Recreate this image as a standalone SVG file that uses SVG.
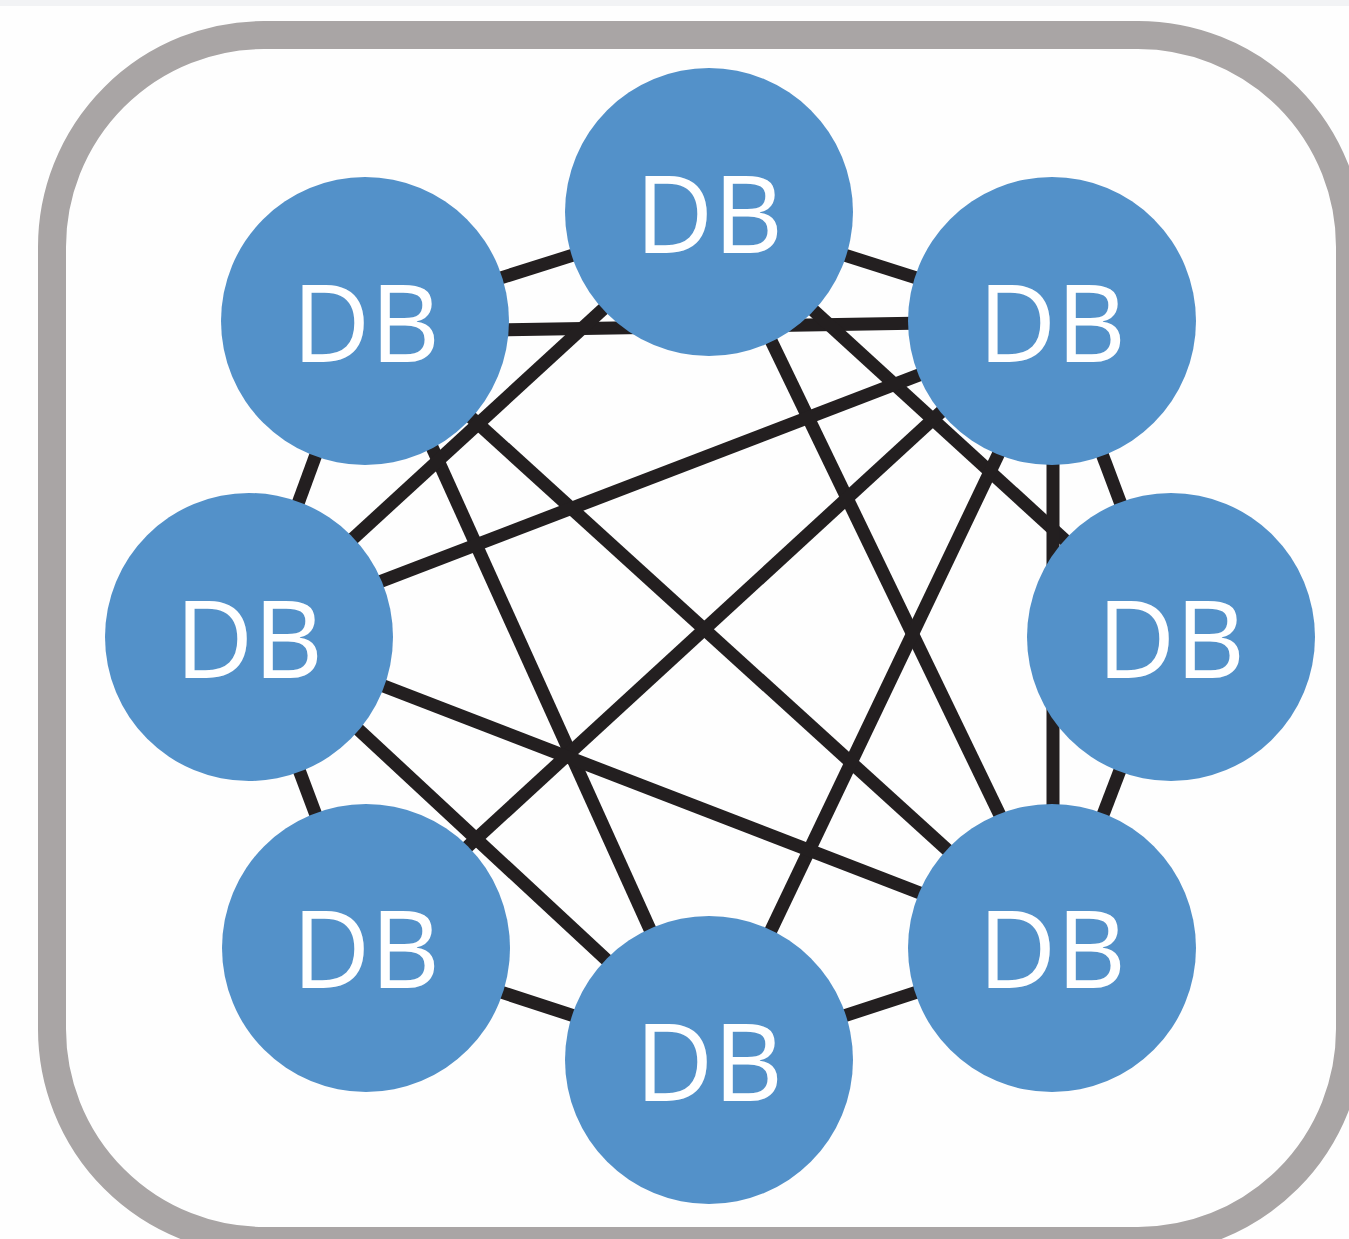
<svg xmlns="http://www.w3.org/2000/svg" width="1349" height="1239" viewBox="0 0 1349 1239">
  <style>
    .frame { fill: #fefefe; stroke: #a9a5a5; stroke-width: 28; }
    .edge { stroke: #231f20; stroke-width: 13; stroke-linecap: butt; fill: none; }
    .node circle { fill: #5391c9; }
    .node text { fill: #ffffff; font-family: "Open Sans", "Noto Sans", "Liberation Sans", sans-serif; font-size: 108px; font-weight: 500; text-anchor: middle; }
  </style>
  <rect x="0" y="0" width="1349" height="1239" fill="#fefefe"/>
  <rect x="0" y="0" width="1349" height="6" fill="#f2f3f5"/>
  <rect class="frame" x="52" y="35" width="1298" height="1206" rx="212" ry="212"/>

  <g id="connectors">
    <!-- ring -->
    <line class="edge" x1="709" y1="212" x2="365" y2="321"/>
    <line class="edge" x1="709" y1="212" x2="1052" y2="321"/>
    <line class="edge" x1="365" y1="321" x2="249" y2="637"/>
    <line class="edge" x1="1052" y1="321" x2="1171" y2="637"/>
    <line class="edge" x1="249" y1="637" x2="366" y2="948"/>
    <line class="edge" x1="1171" y1="637" x2="1052" y2="948"/>
    <line class="edge" x1="366" y1="948" x2="709" y2="1060"/>
    <line class="edge" x1="709" y1="1060" x2="1052" y2="948"/>
    <!-- chords -->
    <line class="edge" x1="365" y1="332" x2="1052" y2="321"/>
    <line class="edge" x1="365" y1="321" x2="1052" y2="945"/>
    <line class="edge" x1="375" y1="321" x2="709" y2="1060"/>
    <line class="edge" x1="709" y1="212" x2="249" y2="634"/>
    <line class="edge" x1="709" y1="212" x2="1064" y2="948"/>
    <line class="edge" x1="709" y1="215" x2="1171" y2="637"/>
    <line class="edge" x1="1052" y1="324" x2="249" y2="632"/>
    <line class="edge" x1="1052" y1="310" x2="366" y2="940"/>
    <line class="edge" x1="1062" y1="321" x2="709" y2="1060"/>
    <line class="edge" x1="1053" y1="321" x2="1053" y2="948"/>
    <line class="edge" x1="249" y1="634" x2="1052" y2="944"/>
    <line class="edge" x1="249" y1="628" x2="709" y2="1055"/>
  </g>

  <g id="node-top" class="node"><circle cx="709" cy="212" r="144"/><text x="709" y="253">DB</text></g>
  <g id="node-top-left" class="node"><circle cx="365" cy="321" r="144"/><text x="366" y="362">DB</text></g>
  <g id="node-top-right" class="node"><circle cx="1052" cy="321" r="144"/><text x="1052" y="362">DB</text></g>
  <g id="node-left" class="node"><circle cx="249" cy="637" r="144"/><text x="249" y="678">DB</text></g>
  <g id="node-right" class="node"><circle cx="1171" cy="637" r="144"/><text x="1171" y="678">DB</text></g>
  <g id="node-bottom-left" class="node"><circle cx="366" cy="948" r="144"/><text x="366" y="988">DB</text></g>
  <g id="node-bottom-right" class="node"><circle cx="1052" cy="948" r="144"/><text x="1052" y="988">DB</text></g>
  <g id="node-bottom" class="node"><circle cx="709" cy="1060" r="144"/><text x="709" y="1101">DB</text></g>
</svg>
